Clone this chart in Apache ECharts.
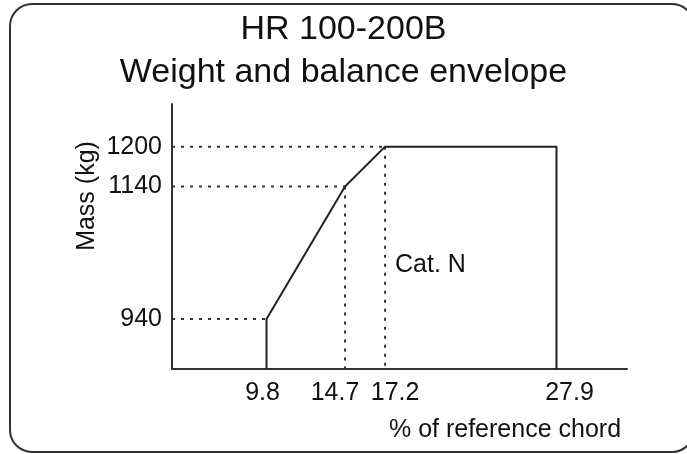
<!DOCTYPE html>
<html>
<head>
<meta charset="utf-8">
<script src="https://cdn.jsdelivr.net/npm/echarts@6/dist/echarts.min.js"></script>
<style>
  html, body { margin: 0; padding: 0; background: #fff; }
  #main { width: 687px; height: 454px; }
</style>
</head>
<body>
<div id="main"></div>
<script>
// envelope corners (% chord, kg)
var chordTicks = [9.8, 14.7, 17.2, 27.9]
var massTicks = [940, 1140, 1200]
var envChord = [9.8, 9.8, 14.7, 17.2, 27.9, 27.9]
var envMass = [null, 940, 1140, 1200, 1200, null]   // null = down to the x axis
// axis extents
var chordMin = 3.9
var chordMax = 32.3
var massMin = 864.7
var massMax = 1264.3

var FONT = 'Liberation Sans, Arial, sans-serif'
var INK = '#111'

// label nudges so they sit like the drawing (px, + = right)
var labelShift = { '9.8': -4, '14.7': -10, '17.2': 10, '27.9': 13 }

var chart = echarts.init(document.getElementById('main'))

var envData = envChord.map(function (c, i) {
  return [c, envMass[i] == null ? massMin : envMass[i]]
})

var guides = []
// horizontal dotted from the mass axis to each corner
massTicks.forEach(function (m, i) {
  guides.push([[chordMin, m], [chordTicks[i], m]])
})
// vertical dotted from the upper corners down to the chord axis
;[1, 2].forEach(function (i) {
  guides.push([[chordTicks[i], massTicks[i]], [chordTicks[i], massMin]])
})

var series = [{
  type: 'line',
  data: envData,
  symbol: 'none',
  lineStyle: { color: '#222', width: 2 },
  z: 3
}]
guides.forEach(function (g) {
  series.push({
    type: 'line',
    data: g,
    symbol: 'none',
    lineStyle: { color: '#333', width: 2, type: [3, 6] },
    z: 2
  })
})

var rich = {}
chordTicks.forEach(function (t, i) {
  var s = labelShift[String(t)] || 0
  rich['t' + i] = {
    fontSize: 25, fontFamily: FONT, color: INK,
    padding: s < 0 ? [0, -2 * s, 0, 0] : [0, 0, 0, 2 * s]
  }
})

chart.setOption({
  animation: false,
  backgroundColor: '#fff',
  title: {
    text: 'HR 100-200B\nWeight and balance envelope',
    left: 'center',
    top: 8,
    padding: [0, 0, 0, 5],
    textStyle: { fontSize: 34, fontWeight: 'normal', fontFamily: FONT, color: INK, lineHeight: 43 }
  },
  grid: { left: 172, right: 60, top: 104, bottom: 85 },
  xAxis: {
    type: 'value',
    min: chordMin,
    max: chordMax,
    splitLine: { show: false },
    axisTick: { show: false },
    axisLine: { lineStyle: { color: '#333', width: 2 } },
    axisLabel: {
      customValues: chordTicks,
      margin: 12,
      formatter: function (v) {
        var i = chordTicks.indexOf(v)
        return '{t' + i + '|' + v + '}'
      },
      rich: rich
    }
  },
  yAxis: {
    type: 'value',
    min: massMin,
    max: massMax,
    splitLine: { show: false },
    axisTick: { show: false },
    axisLine: { lineStyle: { color: '#333', width: 2 } },
    axisLabel: {
      customValues: massTicks,
      margin: 10,
      fontSize: 25,
      fontFamily: FONT,
      color: INK,
      formatter: function (v) { return String(v) }
    }
  },
  graphic: [
    {
      type: 'rect',
      shape: { x: 10, y: 4, width: 684, height: 448, r: 22 },
      style: { fill: 'none', stroke: '#333', lineWidth: 2 },
      silent: true
    },
    {
      type: 'text',
      x: 87, y: 196,
      rotation: Math.PI / 2,
      style: { text: 'Mass (kg)', font: '25px ' + FONT, fill: INK, align: 'center', verticalAlign: 'middle' }
    },
    {
      type: 'text',
      x: 505, y: 430,
      style: { text: '% of reference chord', font: '25px ' + FONT, fill: INK, align: 'center', verticalAlign: 'middle' }
    },
    {
      type: 'text',
      x: 395, y: 265,
      style: { text: 'Cat. N', font: '25px ' + FONT, fill: INK, align: 'left', verticalAlign: 'middle' }
    }
  ],
  series: series
})
</script>
</body>
</html>
